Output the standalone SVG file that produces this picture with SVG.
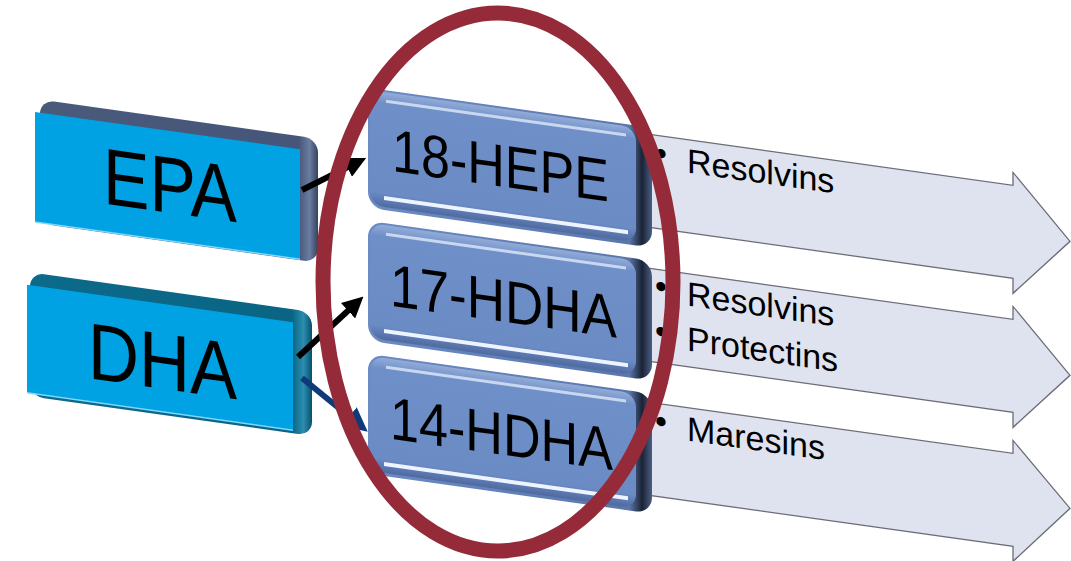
<svg xmlns="http://www.w3.org/2000/svg" width="1071" height="561" viewBox="0 0 1071 561">
<style>
  .lbl{font-family:"Liberation Sans",Arial,sans-serif;fill:#000}
  .big{font-size:80px}
  .mid{font-size:60px}
  .sm{font-size:34px}
  .chev{fill:#dfe3f0;stroke:#6c6c76;stroke-width:1.3;stroke-linejoin:miter}
  .bluef{fill:#00a2e4}
  .conn{fill:none;stroke-width:6}
</style>
<defs>
  <linearGradient id="mSide" x1="0" y1="0" x2="1" y2="0">
    <stop offset="0" stop-color="#6b8bc4"/>
    <stop offset="0.92" stop-color="#5a77ab"/>
    <stop offset="0.965" stop-color="#1a2335"/>
    <stop offset="1" stop-color="#4b5e85"/>
  </linearGradient>
  <linearGradient id="mFace" x1="0" y1="0" x2="0" y2="1">
    <stop offset="0" stop-color="#93acd8"/>
    <stop offset="0.1" stop-color="#6f8fc8"/>
    <stop offset="0.88" stop-color="#6b8bc5"/>
    <stop offset="1" stop-color="#4f6aa0"/>
  </linearGradient>
  <linearGradient id="epaBack" x1="0" y1="0" x2="1" y2="0">
    <stop offset="0" stop-color="#4a5a7a"/>
    <stop offset="0.93" stop-color="#45567a"/>
    <stop offset="0.97" stop-color="#6a7ca0"/>
    <stop offset="1" stop-color="#34425e"/>
  </linearGradient>
  <linearGradient id="dhaBack" x1="0" y1="0" x2="1" y2="0">
    <stop offset="0" stop-color="#0c6a8a"/>
    <stop offset="0.93" stop-color="#0a6584"/>
    <stop offset="0.97" stop-color="#2c8db0"/>
    <stop offset="1" stop-color="#06506b"/>
  </linearGradient>
  <marker id="ahB" viewBox="0 0 10 10" refX="1" refY="5" markerWidth="3.5" markerHeight="3.5" orient="auto">
    <path d="M0,0 L10,5 L0,10 z" fill="#000"/>
  </marker>
  <marker id="ahN" viewBox="0 0 10 10" refX="1" refY="5" markerWidth="4" markerHeight="4" orient="auto">
    <path d="M0,0 L10,5 L0,10 z" fill="#0f3a7a"/>
  </marker>
  <g id="mbox">
    <rect x="368" y="-2" width="284" height="120" rx="16" fill="url(#mSide)"/>
    <rect x="370" y="0" width="266" height="115" rx="14" fill="url(#mFace)"/>
    <line x1="386" y1="9" x2="626" y2="9" stroke="#d8e4f6" stroke-width="3" opacity="0.85"/>
    <line x1="384" y1="106" x2="628" y2="106" stroke="#eef4ff" stroke-width="4"/>
  </g>
</defs>
<rect width="1071" height="561" fill="#ffffff"/>
<g transform="skewY(8)">
  <g id="out-1">
    <path class="chev" d="M648,43 L1013,43 L1013,30 L1070,91 L1013,151 L1013,136 L648,136 Z"/>
    <text class="lbl sm" x="655" y="72">•</text>
    <text class="lbl sm" x="687" y="76">Resolvins</text>
  </g>
  <g id="out-2">
    <path class="chev" d="M648,177 L1013,177 L1013,164 L1070,225 L1013,285 L1013,270 L648,270 Z"/>
    <text class="lbl sm" x="655" y="205">•</text>
    <text class="lbl sm" x="687" y="209">Resolvins</text>
    <text class="lbl sm" x="655" y="250">•</text>
    <text class="lbl sm" x="687" y="254">Protectins</text>
  </g>
  <g id="out-3">
    <path class="chev" d="M648,311 L1013,311 L1013,298 L1070,358 L1013,419 L1013,404 L648,404 Z"/>
    <text class="lbl sm" x="655" y="340">•</text>
    <text class="lbl sm" x="687" y="344">Maresins</text>
  </g>
  <g id="node-epa">
    <rect x="40" y="94" width="278" height="124" rx="14" fill="url(#epaBack)"/>
    <rect class="bluef" x="35" y="107" width="265" height="110"/>
    <line x1="35" y1="217" x2="300" y2="217" stroke="#7fd6ff" stroke-width="1.5"/>
    <text class="lbl big" x="103" y="189" textLength="134" lengthAdjust="spacingAndGlyphs">EPA</text>
  </g>
  <g id="node-dha">
    <rect x="30" y="268" width="282" height="124" rx="14" fill="url(#dhaBack)"/>
    <rect class="bluef" x="27" y="281" width="266" height="108"/>
    <line x1="27" y1="389" x2="293" y2="389" stroke="#7fd6ff" stroke-width="1.5"/>
    <text class="lbl big" x="88" y="366" textLength="149" lengthAdjust="spacingAndGlyphs">DHA</text>
  </g>
  <g id="node-18hepe">
    <use href="#mbox" y="38"/>
    <text class="lbl mid" x="392" y="116" textLength="217" lengthAdjust="spacingAndGlyphs">18-HEPE</text>
  </g>
  <g id="node-17hdha">
    <use href="#mbox" y="171"/>
    <text class="lbl mid" x="390" y="251" textLength="227" lengthAdjust="spacingAndGlyphs">17-HDHA</text>
  </g>
  <g id="node-14hdha">
    <use href="#mbox" y="304"/>
    <text class="lbl mid" x="390" y="384" textLength="223" lengthAdjust="spacingAndGlyphs">14-HDHA</text>
  </g>
</g>
<g id="connectors">
  <line class="conn" x1="302" y1="190" x2="349.2" y2="166.4" stroke="#000" marker-end="url(#ahB)"/>
  <line class="conn" x1="298" y1="357" x2="349.6" y2="309.3" stroke="#000" marker-end="url(#ahB)"/>
  <line class="conn" x1="302" y1="378" x2="351" y2="418" stroke="#0f3a7a" stroke-width="5" marker-end="url(#ahN)"/>
</g>
<g id="highlight">
  <ellipse cx="498" cy="282" rx="175" ry="269" fill="none" stroke="#952b39" stroke-width="15"/>
</g>
</svg>
